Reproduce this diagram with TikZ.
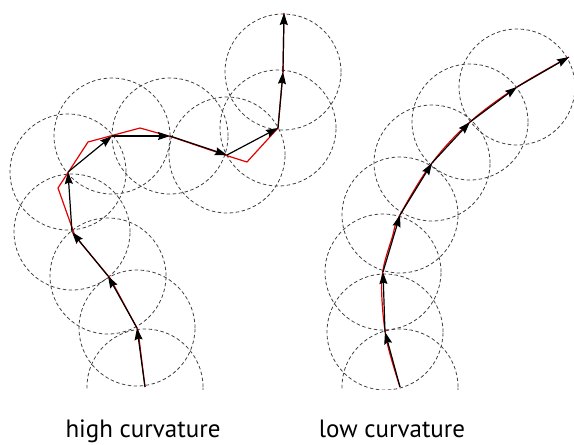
\documentclass[tikz,border=0pt]{standalone}
\usepackage{fontspec}
\setmainfont{PT Sans}
\usetikzlibrary{arrows.meta,positioning}

\begin{document}
\begin{tikzpicture}[
  x=1pt,y=-1pt,
  >={Stealth[length=12pt,width=8pt,inset=1.5pt]},
  line width=1pt,
  ring/.style={draw=black!75,line width=0.8pt,dash pattern=on 3.5pt off 2.5pt},
  fib/.style={draw=red!90!black,line width=1.2pt,line join=round},
  stp/.style={->,draw=black,line width=1.2pt},
  lbl/.style={anchor=base,font=\fontsize{25}{30}\selectfont}
]%
  \useasboundingbox (0,0) rectangle (574,445);
  \foreach \n/\x/\y in {0/145/387,1/137/328,2/108/276,3/72/232,4/68/172,5/112/136,
                        6/170/136,7/227/155,8/278/128,9/283/72,10/284/13}
    \coordinate (h\n) at (\x,\y);
  \foreach \n/\x/\y in {0/400/387,1/385/332,2/383/272,3/400/215,4/432/163,5/470/122,
                        6/517/87,7/569/57}
    \coordinate (l\n) at (\x,\y);

  \begin{scope}
    \clip (0,0) rectangle (574,389);
    \foreach \i in {0,...,9}
      \draw[ring] (h\i) circle[radius=58pt];
    \foreach \i in {0,...,6}
      \draw[ring] (l\i) circle[radius=58pt];
  \end{scope}

  \draw[fib] plot coordinates {(145,387) (138,330) (110,278) (75,236) (58,188) (88,142)
    (140,128) (172,137) (228,156) (247,162) (278,128) (283,72) (284,13)};
  \draw[fib] plot[smooth,tension=0.6] coordinates {(400,387) (387,342) (382,300) (383,270)
    (392,238) (400,215) (432,163) (470,122) (517,87) (569,57)};

  \foreach \i [remember=\i as \j (initially 0)] in {1,...,10}
    \draw[stp] (h\j) -- (h\i);
  \foreach \i [remember=\i as \j (initially 0)] in {1,...,7}
    \draw[stp] (l\j) -- (l\i);

  \node[lbl] (hc) at (143,437) {high curvature};
  \node[lbl] (lc) at (392,437) {low curvature};
\end{tikzpicture}
\end{document}
